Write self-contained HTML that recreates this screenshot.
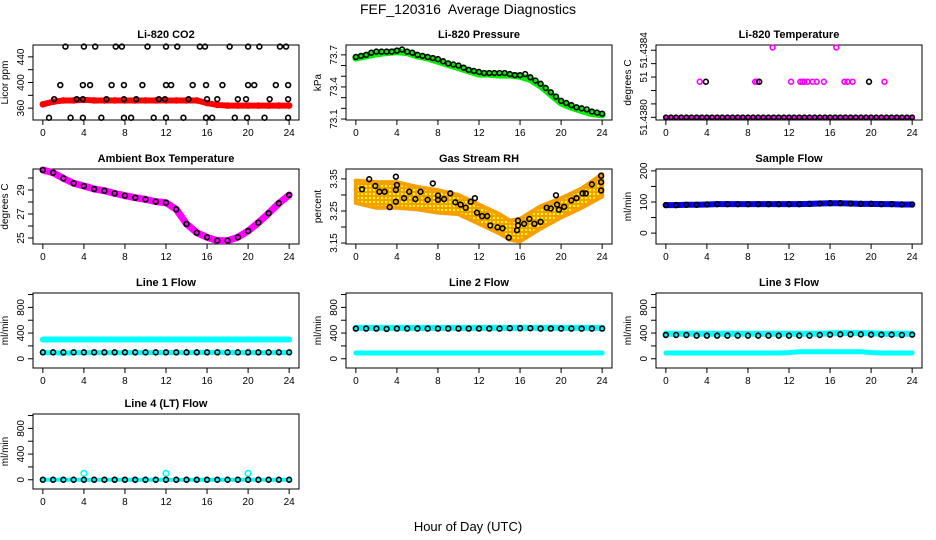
<!DOCTYPE html>
<html><head><meta charset="utf-8"><style>
html,body{margin:0;padding:0;background:#fff;}
svg{display:block;font-family:"Liberation Sans",sans-serif;}
</style></head><body>
<svg id="chart" width="936" height="540" viewBox="0 0 936 540">
<text x="468" y="14" font-size="14" text-anchor="middle" style="white-space:pre">FEF_120316&#160; Average Diagnostics</text>
<text x="468" y="531" font-size="13" text-anchor="middle">Hour of Day (UTC)</text>
</svg>
<script>
// ---- data ----
const hours = [0,1,2,3,4,5,6,7,8,9,10,11,12,13,14,15,16,17,18,19,20,21,22,23,24];
const hoursHalf = [0,0.5,1,1.5,2,2.5,3,3.5,4,4.5,5,5.5,6,6.5,7,7.5,8,8.5,9,9.5,10,10.5,11,11.5,12,12.5,13,13.5,14,14.5,15,15.5,16,16.5,17,17.5,18,18.5,19,19.5,20,20.5,21,21.5,22,22.5,23,23.5,24];
const xTicks = [0,4,8,12,16,20,24];

const co2Red = [366,370,372,372,373,372,372,372,372,372,372,372,372,372,372,372,368,365,364,364,364,364,364,364,364];
const co2BlackHours = [2.2,4,5.1,7.1,7.7,10.2,12,13.1,15.3,15.8,18.2,20,21.1,23.1,23.7, 1.7,3.9,4.6,6.7,7.9,9.7,12,12.5,14.6,15.9,17.5,20,20.6,22.7,23.9, 1.1,3.3,3.9,6.2,7.9,9.1,11.3,11.9,14.2,16,17,19,19.8,22.1,23.9, 0.6,2.7,3.9,5.7,7.9,8.6,10.8,12,13.7,15.9,16.5,18.7,19.9,21.6,23.9];
const co2BlackVals = [456,456,456,456,456,456,456,456,456,456,456,456,456,456,456, 396,396,396,396,396,396,396,396,396,396,396,396,396,396,396, 374,374,374,374,374,374,374,374,374,374,374,374,374,374,374, 345,345,345,345,345,345,345,345,345,345,345,345,345,345,345];

const pressGreen = [73.67,73.69,73.71,73.72,73.73,73.72,73.69,73.67,73.64,73.61,73.58,73.55,73.52,73.52,73.51,73.51,73.50,73.47,73.41,73.33,73.25,73.21,73.18,73.15,73.14];
const pressBlack = [73.68,73.69,73.70,73.72,73.73,73.73,73.73,73.73,73.74,73.75,73.73,73.72,73.70,73.69,73.68,73.67,73.66,73.64,73.62,73.61,73.60,73.58,73.56,73.55,73.54,73.53,73.53,73.53,73.53,73.53,73.52,73.51,73.51,73.52,73.49,73.46,73.43,73.39,73.35,73.31,73.27,73.25,73.23,73.21,73.20,73.19,73.17,73.16,73.15];

const tempLevelBase = [0,0,0,0,0,0,0,0,0,0,0,0,0,0,0,0,0,0,0,0,0,0,0,0,0,0,0,0,0,0,0,0,0,0,0,0,0,0,0,0,0,0,0,0,0,0,0,0,0];
const tempPinkHours = [10.4,16.6,3.3,8.7,8.9,12.2,13.1,13.3,13.5,13.8,14.3,14.7,15.4,17.4,17.7,18.2,21.3];
const tempPinkVals = [5.2,5.2,2.65,2.65,2.65,2.65,2.65,2.65,2.65,2.65,2.65,2.65,2.65,2.65,2.65,2.65,2.65];
const tempBlackHours = [3.9,9.1,19.8];
const tempBlackVals = [2.65,2.65,2.65];
const tempTickLabels = ["51.4380","","51","","51.4384"];

const ambient = [30.67,30.44,29.97,29.56,29.33,29.08,28.94,28.72,28.53,28.36,28.22,28.03,27.94,27.39,26.17,25.44,25.06,24.78,24.78,25.06,25.58,26.28,27.06,27.89,28.58];

const rhBandHours = [0,2,4,6,8,10,12,14,15,16,18,20,22,24];
const rhBandCenter = [3.31,3.30,3.30,3.29,3.28,3.27,3.24,3.21,3.19,3.19,3.23,3.26,3.29,3.33];
const rhBandHalf = [0.035,0.04,0.04,0.035,0.035,0.03,0.03,0.03,0.03,0.035,0.035,0.03,0.03,0.035];
const rhBlackHours = [0.6,1.3,1.9,2.3,2.8,3.3,3.9,4,3.9,3.9,4.7,5.2,5.8,6.3,7,7.5,8,8,8.6,9.2,9.7,10.2,10.7,11.2,11.6,11.8,12.3,12.8,13.1,13.8,14.3,14.9,15.8,15.8,15.7,16.4,16.9,17.4,18,18.6,19,19.5,19.6,19.8,20.3,21,21.5,22.1,22.4,23,23.9,23.9,23.9];
const rhBlackVals = [3.318,3.349,3.328,3.31,3.31,3.262,3.357,3.331,3.316,3.279,3.29,3.31,3.287,3.31,3.285,3.336,3.298,3.285,3.287,3.305,3.277,3.27,3.26,3.279,3.29,3.245,3.234,3.234,3.205,3.199,3.196,3.167,3.22,3.205,3.19,3.21,3.225,3.21,3.216,3.26,3.258,3.299,3.27,3.254,3.263,3.283,3.29,3.305,3.305,3.333,3.36,3.34,3.314];

const sampleBlue = [90,90,91,91,92,93,93,93,93,93,93,93,93,93,94,95,96,96,95,94,94,93,93,92,92];

const line1Hi = [300,300,300,300,300,300,300,300,300,300,300,300,300,300,300,300,300,300,300,300,300,300,300,300,300];
const line1Lo = [95,95,85,95,95,95,95,95,95,95,95,95,95,95,95,100,100,100,100,95,95,95,95,95,95];
const line1Black = [100,100,100,100,100,100,100,100,100,100,100,100,100,100,100,100,100,100,100,100,100,100,100,100,100];
const line2Hi = [480,480,480,480,480,480,480,480,480,480,480,480,480,480,480,480,480,480,480,480,480,480,480,480,480];
const line2Lo = [90,90,90,90,90,90,90,90,90,90,90,90,90,90,90,90,90,90,90,90,90,90,90,90,90];
const line2Black = [470,470,470,465,470,470,470,470,470,470,470,470,470,470,470,475,475,475,470,470,470,470,470,470,470];
const line3Hi = [390,390,390,390,390,390,390,390,390,390,390,390,390,390,390,390,395,400,400,400,395,390,390,390,390];
const line3Lo = [90,90,90,90,90,90,90,90,90,90,90,90,95,110,110,110,110,110,110,110,95,90,90,90,90];
const line3Black = [370,370,370,360,360,360,360,360,360,360,360,360,360,360,360,370,375,380,380,380,375,375,375,370,375];
const line4Cyan = [0,0,0,0,0,0,0,0,0,0,0,0,0,0,0,0,0,0,0,0,0,0,0,0,0];
const line4SpikeHours = [4,12,20];
const line4SpikeVals = [100,100,100];
const line4Black = [0,0,0,0,0,0,0,0,0,0,0,0,0,0,0,0,0,0,0,0,0,0,0,0,0];

// ---- drawing ----
const svg = document.getElementById('chart');
const NS = 'http://www.w3.org/2000/svg';
function mk(tag, attrs, parent){const e=document.createElementNS(NS,tag);for(const k in attrs)e.setAttribute(k,attrs[k]);(parent||svg).appendChild(e);return e;}
const colL=[33,346,656], rowT=[45,169,293,414], W=266, Hh=75;

function makePanel(col,row,title,ylab,lo,hi,ticks,labels,name){
  const g=mk('g',{});
  
  
  const L=colL[col],T=rowT[row],B=T+Hh;
  const x=h=>L+W*(h+0.96)/25.92;
  const y=v=>B-Hh*(v-lo)/(hi-lo);
  const t=mk('text',{x:L+W/2,y:T-7,'font-size':11,'font-weight':'bold','text-anchor':'middle'},g);
  t.textContent=title;
  
  
  const yl=mk('text',{transform:`translate(${L-25},${T+Hh/2}) rotate(-90)`,'font-size':10,'text-anchor':'middle'},g);
  yl.textContent=ylab;
  
  
  mk('line',{x1:L,x2:L,y1:y(ticks[0]),y2:y(ticks[ticks.length-1]),stroke:'#000'},g);
  ticks.forEach((v,i)=>{
    mk('line',{x1:L-5,x2:L,y1:y(v),y2:y(v),stroke:'#000'},g);
    if(labels[i]){const tl=mk('text',{transform:`translate(${L-9},${y(v)}) rotate(-90)`,'font-size':10,'text-anchor':'middle'},g);tl.textContent=labels[i];
      
      }
  });
  mk('line',{x1:x(0),x2:x(24),y1:B,y2:B,stroke:'#000'},g);
  xTicks.forEach(h=>{
    mk('line',{x1:x(h),x2:x(h),y1:B,y2:B+5,stroke:'#000'},g);
    const tl=mk('text',{x:x(h),y:B+16,'font-size':10,'text-anchor':'middle'},g);tl.textContent=h;
    
    
  });
  mk('rect',{x:L,y:T,width:W,height:Hh,fill:'none',stroke:'#000'},g);
  const plot=mk('g',{},g);
  return {x,y,g:plot};
}
function band(p,hs,vs,color,w,name){
  const pl=mk('polyline',{points:hs.map((h,i)=>p.x(h)+','+p.y(vs[i])).join(' '),fill:'none',stroke:color,'stroke-width':w,'stroke-linecap':'round','stroke-linejoin':'round'},p.g);
  
  
}
function pts(p,hs,vs,color,name,r){
  hs.forEach((h,i)=>{
    const c=mk('circle',{cx:p.x(h),cy:p.y(vs[i]),r:r||2.4,fill:'none',stroke:color,'stroke-width':1.6},p.g);
    
    
  });
}

let p=makePanel(0,0,'Li-820 CO2','Licor ppm',341.5,458.5,[360,380,400,420,440],['360','','400','','440'],'co2-panel');
band(p,hours,co2Red,'#f00',6,'co2-red-band');
pts(p,hours,co2Red,'#f00','co2-red-point',2.5);
pts(p,co2BlackHours,co2BlackVals,'#000','co2-black-point');

p=makePanel(1,0,'Li-820 Pressure','kPa',73.091,73.792,[73.1,73.2,73.3,73.4,73.5,73.6,73.7],['73.1','','','73.4','','','73.7'],'pressure-panel');
band(p,hours,pressGreen,'#0e0',7,'pressure-green-band');
pts(p,hoursHalf,pressBlack,'#000','pressure-black-point');

p=makePanel(2,0,'Li-820 Temperature','degrees C',-0.2,5.39,[0,1,2,3,4,5],['51.4380','','','51','','51.4384'],'temperature-panel');
band(p,hoursHalf,tempLevelBase,'#f0f',4,'temp-pink-band');
pts(p,hoursHalf,tempLevelBase,'#000','temp-black-point',2.2);
pts(p,tempPinkHours,tempPinkVals,'#f0f','temp-pink-point');
pts(p,tempBlackHours,tempBlackVals,'#000','temp-black-point');

p=makePanel(0,1,'Ambient Box Temperature','degrees C',24.5,30.75,[25,26,27,28,29,30],['25','','27','','29',''],'ambient-panel');
band(p,hours,ambient,'#f0f',7,'ambient-pink-band');
pts(p,hours,ambient,'#000','ambient-black-point');

p=makePanel(1,1,'Gas Stream RH','percent',3.147,3.381,[3.15,3.2,3.25,3.3,3.35],['3.15','','3.25','','3.35'],'rh-panel');
const up=rhBandHours.map((h,i)=>p.x(h)+','+p.y(rhBandCenter[i]+rhBandHalf[i]));
const dn=rhBandHours.map((h,i)=>p.x(h)+','+p.y(rhBandCenter[i]-rhBandHalf[i])).reverse();
const defs=mk('defs',{});
const pat=mk('pattern',{id:'rhpat',width:4,height:4,patternUnits:'userSpaceOnUse'},defs);
mk('rect',{width:4,height:4,fill:'#f5a000'},pat);
mk('rect',{x:1,y:1,width:2,height:2,fill:'#ff0'},pat);
const poly=mk('polygon',{points:up.concat(dn).join(' '),fill:'url(#rhpat)',stroke:'#f5a000','stroke-width':4,'stroke-linejoin':'round'},p.g);


pts(p,rhBlackHours,rhBlackVals,'#000','rh-black-point');

p=makePanel(2,1,'Sample Flow','ml/min',-35,206,[0,50,100,150,200],['0','','100','','200'],'sample-flow-panel');
band(p,hours,sampleBlue,'#00f',6,'sample-blue-band');
pts(p,hours,sampleBlue,'#000','sample-black-point');

const fT=[0,200,400,600,800,1000], fL=['0','','400','','800',''];
p=makePanel(0,2,'Line 1 Flow','ml/min',-144,1024,fT,fL,'line1-panel');
band(p,hours,line1Hi,'#0ff',6,'line1-cyan-high');
band(p,hours,line1Lo,'#0ff',5,'line1-cyan-low');
pts(p,hours,line1Black,'#000','line1-black-point');
p=makePanel(1,2,'Line 2 Flow','ml/min',-144,1024,fT,fL,'line2-panel');
band(p,hours,line2Hi,'#0ff',6,'line2-cyan-high');
band(p,hours,line2Lo,'#0ff',5,'line2-cyan-low');
pts(p,hours,line2Black,'#000','line2-black-point');
p=makePanel(2,2,'Line 3 Flow','ml/min',-144,1024,fT,fL,'line3-panel');
band(p,hours,line3Hi,'#0ff',6,'line3-cyan-high');
band(p,hours,line3Lo,'#0ff',5,'line3-cyan-low');
pts(p,hours,line3Black,'#000','line3-black-point');
p=makePanel(0,3,'Line 4 (LT) Flow','ml/min',-144,1024,fT,fL,'line4-panel');
band(p,hours,line4Cyan,'#0ff',4,'line4-cyan-band');
pts(p,line4SpikeHours,line4SpikeVals,'#0ff','line4-cyan-spike',2.8);
pts(p,hours,line4Black,'#000','line4-black-point');
</script>
</body></html>
